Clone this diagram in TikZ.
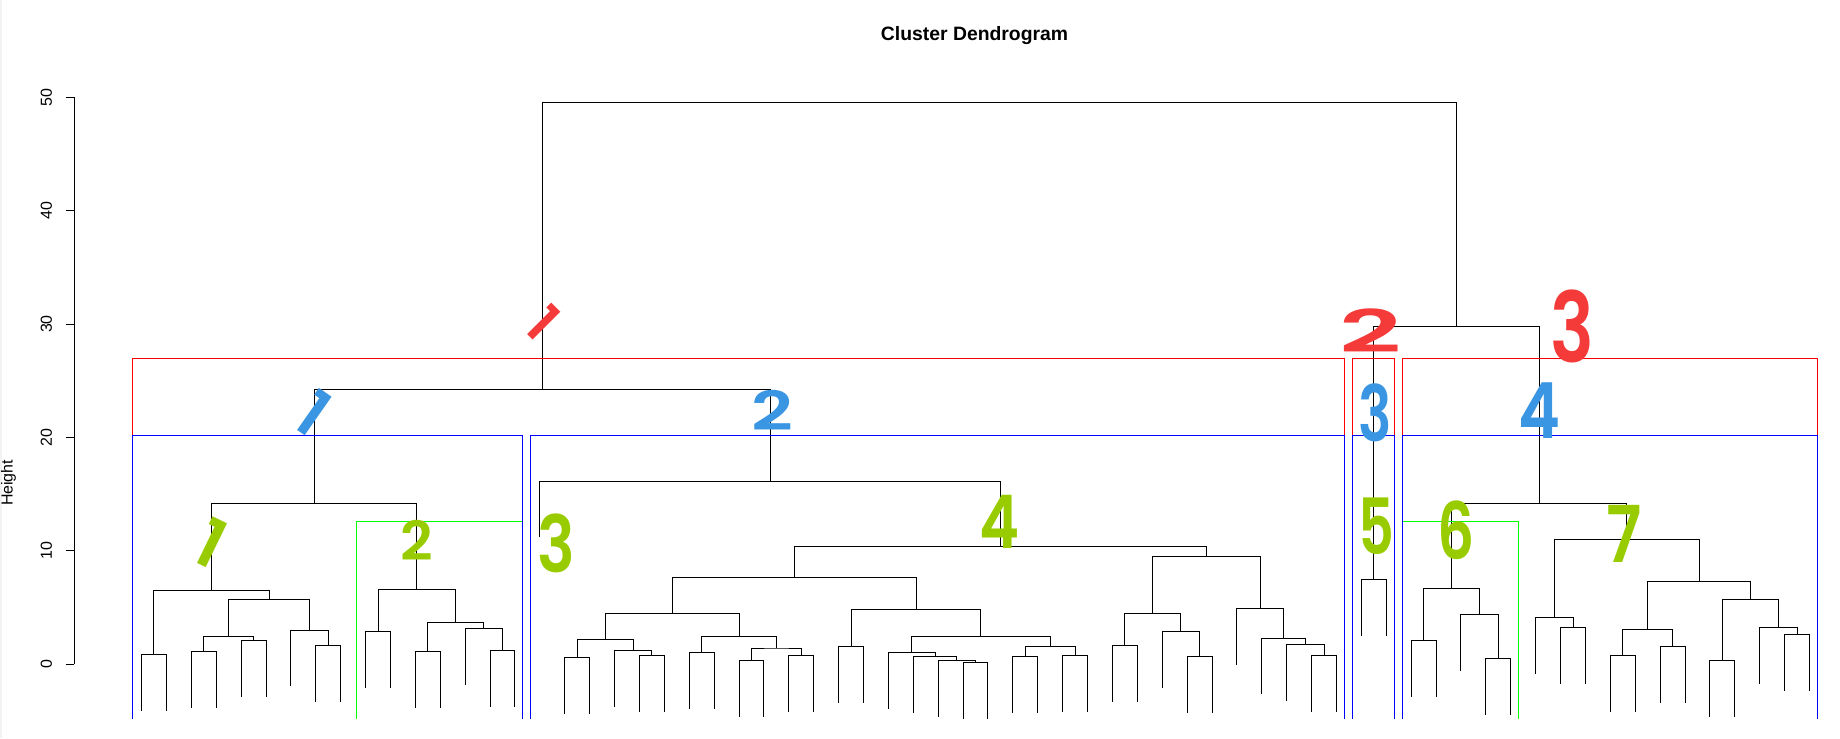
\documentclass[tikz,border=0pt]{standalone}
\usepackage{fontspec}
\setmainfont{Liberation Sans}
\newfontfamily\handfont{Poppins}[UprightFont={* SemiBold},BoldFont={* SemiBold}]
\usetikzlibrary{calc}
\definecolor{hred}{RGB}{245,58,58}
\definecolor{hblue}{RGB}{58,150,226}
\definecolor{hgreen}{RGB}{153,204,0}
\tikzset{
  dline/.style={line width=0.85pt,black},
  boxred/.style={line width=0.85pt,draw={rgb,255:red,255;green,0;blue,0}},
  boxblue/.style={line width=0.85pt,draw={rgb,255:red,0;green,0;blue,255}},
  boxgreen/.style={line width=0.85pt,draw={rgb,255:red,0;green,255;blue,0}},
  ticklab/.style={font=\fontsize{13.6}{14}\selectfont,rotate=90,inner sep=0pt},
  hand/.style={inner sep=0pt,font=\handfont\fontsize{#1}{#1}\selectfont},
}
\newcommand\lf[3]{\coordinate (#1) at ({120.6+21.215*#2},{#3+48});}
\newcommand\mg[4]{%
  \path ($(#2)!0.5!(#3)$) coordinate (tmpmid);
  \coordinate (#1) at (tmpmid |- 0,#4);
  \draw[dline] (#2) |- (#1) -| (#3);}
\newcommand\yh[1]{566.2-9.668*#1}
\begin{document}
\begin{tikzpicture}[x=1pt,y=-1pt]
\useasboundingbox (0,0) rectangle (1568,629);
\fill[gray!10] (0,0) rectangle (2,629);
% title
\node[font=\bfseries\fontsize{16.5}{18}\selectfont,anchor=base,inner sep=0pt] (title) at (830.5,34.9) {Cluster Dendrogram};
\node[ticklab,anchor=center] (ylab) at (7.2,411.5) {Height};
% axis
\coordinate (ax0) at (63.3,{\yh{0}});
\coordinate (ax50) at (63.3,{\yh{50}});
\draw[dline] (ax0) -- (ax50);
\foreach \v in {0,10,20,30,40,50}{
  \coordinate (tk\v) at (55.9,{\yh{\v}});
  \draw[dline] (tk\v) -- (63.3,{\yh{\v}});
  \node[ticklab] (tl\v) at (39.5,{\yh{\v}}) {\v};
}
\begin{scope}
\clip (0,0) rectangle (1568,612.5);
% leaves
\lf{L0}{0}{557.6}\lf{L1}{1}{557.6}
\lf{L2}{2}{555.1}\lf{L3}{3}{555.1}
\lf{L4}{4}{545.7}\lf{L5}{5}{545.7}
\lf{L6}{6}{536.9}
\lf{L7}{7}{549.9}\lf{L8}{8}{549.9}
\lf{L9}{9}{538.0}\lf{L10}{10}{538.0}
\lf{L11}{11}{555.1}\lf{L12}{12}{555.1}
\lf{L13}{13}{535.5}
\lf{L14}{14}{554.2}\lf{L15}{15}{554.2}
\lf{L16}{16}{409.9}
\lf{L17}{17}{560.2}\lf{L18}{18}{560.2}
\lf{L19}{19}{554.2}
\lf{L20}{20}{558.5}\lf{L21}{21}{558.5}
\lf{L22}{22}{555.9}\lf{L23}{23}{555.9}
\lf{L24}{24}{562.7}\lf{L25}{25}{562.7}
\lf{L26}{26}{558.5}\lf{L27}{27}{558.5}
\lf{L28}{28}{550.8}\lf{L29}{29}{550.8}
\lf{L30}{30}{555.9}
\lf{L31}{31}{559.3}
\lf{L32}{32}{562.7}
\lf{L33}{33}{564.4}\lf{L34}{34}{564.4}
\lf{L35}{35}{559.3}\lf{L36}{36}{559.3}
\lf{L37}{37}{558.5}\lf{L38}{38}{558.5}
\lf{L39}{39}{549.9}\lf{L40}{40}{549.9}
\lf{L41}{41}{538.0}
\lf{L42}{42}{559.3}\lf{L43}{43}{559.3}
\lf{L44}{44}{518.4}
\lf{L45}{45}{543.7}
\lf{L46}{46}{549.1}
\lf{L47}{47}{558.5}\lf{L48}{48}{558.5}
\lf{L49}{49}{493.7}\lf{L50}{50}{493.7}
\lf{L51}{51}{545.7}\lf{L52}{52}{545.7}
\lf{L53}{53}{523.5}
\lf{L54}{54}{561.0}\lf{L55}{55}{561.0}
\lf{L56}{56}{526.1}
\lf{L57}{57}{534.6}\lf{L58}{58}{534.6}
\lf{L59}{59}{558.5}\lf{L60}{60}{558.5}
\lf{L61}{61}{550.8}\lf{L62}{62}{550.8}
\lf{L63}{63}{562.7}\lf{L64}{64}{562.7}
\lf{L65}{65}{534.6}
\lf{L66}{66}{540.6}\lf{L67}{67}{540.6}
% cluster 1
\mg{a1}{L0}{L1}{557.6}
\mg{a2}{L2}{L3}{555.1}
\mg{a3}{L4}{L5}{545.7}
\mg{a4}{a2}{a3}{542.3}
\mg{a5}{L7}{L8}{549.9}
\mg{a6}{L6}{a5}{536.9}
\mg{a7}{a4}{a6}{510.7}
\mg{a8}{a1}{a7}{503.6}
% cluster 2
\mg{b1}{L9}{L10}{538.0}
\mg{b2}{L11}{L12}{555.1}
\mg{b3}{L14}{L15}{554.2}
\mg{b4}{L13}{b3}{535.5}
\mg{b5}{b2}{b4}{530.3}
\mg{b6}{b1}{b5}{502.2}
\mg{c1}{a8}{b6}{428.9}
% cluster 4
\mg{d1}{L17}{L18}{560.2}
\mg{d2}{L20}{L21}{558.5}
\mg{d3}{L19}{d2}{554.2}
\mg{d4}{d1}{d3}{544.8}
\mg{d5}{L22}{L23}{555.9}
\mg{d6}{L24}{L25}{562.7}
\mg{d7}{L26}{L27}{558.5}
\mg{d8}{d6}{d7}{552.2}
\mg{d9}{d5}{d8}{542.3}
\mg{d10}{d4}{d9}{522.7}
\mg{e1}{L28}{L29}{550.8}
\mg{e2}{L33}{L34}{564.4}
\mg{e3}{L32}{e2}{562.7}
\mg{e4}{L31}{e3}{559.3}
\mg{e5}{L30}{e4}{555.9}
\mg{e6}{L35}{L36}{559.3}
\mg{e7}{L37}{L38}{558.5}
\mg{e8}{e6}{e7}{550.8}
\mg{e9}{e5}{e8}{542.8}
\mg{e10}{e1}{e9}{519.8}
\mg{f1}{d10}{e10}{492.0}
\mg{g1}{L39}{L40}{549.9}
\mg{g2}{L42}{L43}{559.3}
\mg{g3}{L41}{g2}{538.0}
\mg{g4}{g1}{g3}{522.7}
\mg{g5}{L47}{L48}{558.5}
\mg{g6}{L46}{g5}{549.1}
\mg{g7}{L45}{g6}{543.7}
\mg{g8}{L44}{g7}{518.4}
\mg{g9}{g4}{g8}{474.1}
\mg{f2}{f1}{g9}{465.3}
\mg{c2}{L16}{f2}{409.9}
\mg{c3}{c1}{c2}{331.8}
% cluster 5
\mg{h1}{L49}{L50}{493.7}
% cluster 6
\mg{i1}{L51}{L52}{545.7}
\mg{i2}{L54}{L55}{561.0}
\mg{i3}{L53}{i2}{523.5}
\mg{i4}{i1}{i3}{501.4}
% cluster 7
\mg{j1}{L57}{L58}{534.6}
\mg{j2}{L56}{j1}{526.1}
\mg{j3}{L59}{L60}{558.5}
\mg{j4}{L61}{L62}{550.8}
\mg{j5}{j3}{j4}{536.3}
\mg{j6}{L63}{L64}{562.7}
\mg{j7}{L66}{L67}{540.6}
\mg{j8}{L65}{j7}{534.6}
\mg{j9}{j6}{j8}{510.7}
\mg{j10}{j5}{j9}{495.4}
\mg{j11}{j2}{j10}{459.6}
\mg{k1}{i4}{j11}{428.9}
\mg{k2}{h1}{k1}{278.1}
\mg{root}{c3}{k2}{87.2}
% rectangles
\draw[boxred] (113.0,700) -- (113.0,305.4) -- (1145.7,305.4) -- (1145.7,700);
\draw[boxred] (1152.5,700) -- (1152.5,305.4) -- (1188.2,305.4) -- (1188.2,700);
\draw[boxred] (1195.0,700) -- (1195.0,305.4) -- (1548.8,305.4) -- (1548.8,700);
\draw[boxgreen] (303.9,700) -- (303.9,444.5) -- (445.0,444.5) -- (445.0,700);
\draw[boxgreen] (1195.0,700) -- (1195.0,444.5) -- (1294.0,444.5) -- (1294.0,700);
\draw[boxblue] (113.0,700) -- (113.0,371.3) -- (445.6,371.3) -- (445.6,700);
\draw[boxblue] (452.4,700) -- (452.4,371.3) -- (1145.7,371.3) -- (1145.7,700);
\draw[boxblue] (1152.5,700) -- (1152.5,371.3) -- (1188.2,371.3) -- (1188.2,700);
\draw[boxblue] (1195.0,700) -- (1195.0,371.3) -- (1548.8,371.3) -- (1548.8,700);
\end{scope}
% hand-written annotations
\node[hand=46,text=hred,rotate=-45] (r1) at (463,275) {1};
\node[hand=50,text=hred,xscale=1.85] (r2) at (1168,282) {2};
\node[hand=83,text=hred,xscale=0.75] (r3) at (1340,278) {3};
\node[hand=55,text=hblue,rotate=-35] (b1l) at (267,352) {1};
\node[hand=46,text=hblue,xscale=1.35] (b2l) at (658,350) {2};
\node[hand=66,text=hblue,xscale=0.72] (b3l) at (1172,352) {3};
\node[hand=66,text=hblue,xscale=0.82] (b4l) at (1312,350) {4};
\node[hand=57,text=hgreen,rotate=-26] (g1l) at (179.5,463) {1};
\node[hand=46,text=hgreen,xscale=1.05] (g2l) at (355,460.5) {2};
\node[hand=67,text=hgreen,xscale=0.8] (g3l) at (474,463) {3};
\node[hand=63,text=hgreen,xscale=0.82] (g4l) at (852,445) {4};
\node[hand=66,text=hgreen,xscale=0.72] (g5l) at (1172.7,448) {5};
\node[hand=67,text=hgreen,xscale=0.74] (g6l) at (1240.5,452) {6};
\node[hand=67,text=hgreen,xscale=0.82] (g7l) at (1384,455) {7};
\end{tikzpicture}
\end{document}
